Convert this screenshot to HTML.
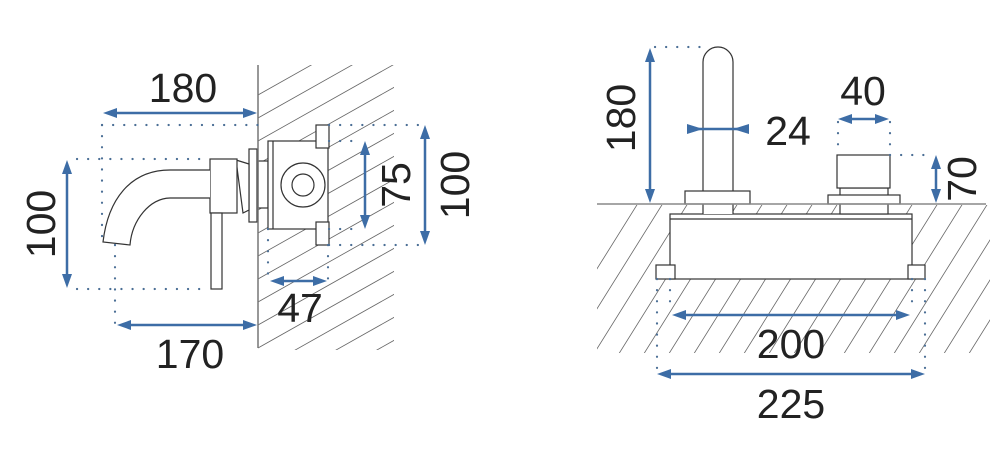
<!DOCTYPE html>
<html><head><meta charset="utf-8"><style>
html,body{margin:0;padding:0;background:#fff;}
svg{display:block}
text{font-family:"Liberation Sans",sans-serif;font-size:41px;fill:#222;}
</style></head><body>
<svg width="1004" height="459" viewBox="0 0 1004 459" xmlns="http://www.w3.org/2000/svg">
<defs>
<clipPath id="c1"><rect x="258" y="65" width="136" height="285"/></clipPath>
<clipPath id="c2"><rect x="597" y="205" width="393" height="148"/></clipPath>
</defs>
<g clip-path="url(#c1)" stroke="#666" stroke-width="0.8">
<line x1="258" y1="95" x2="400" y2="15"/><line x1="258" y1="118" x2="400" y2="38"/><line x1="258" y1="141" x2="400" y2="61"/><line x1="258" y1="164" x2="400" y2="84"/><line x1="258" y1="187" x2="400" y2="107"/><line x1="258" y1="210" x2="400" y2="130"/><line x1="258" y1="233" x2="400" y2="153"/><line x1="258" y1="256" x2="400" y2="176"/><line x1="258" y1="279" x2="400" y2="199"/><line x1="258" y1="302" x2="400" y2="222"/><line x1="258" y1="325" x2="400" y2="245"/><line x1="258" y1="348" x2="400" y2="268"/><line x1="258" y1="371" x2="400" y2="291"/><line x1="258" y1="394" x2="400" y2="314"/><line x1="258" y1="417" x2="400" y2="337"/><line x1="258" y1="440" x2="400" y2="360"/>
</g>
<g clip-path="url(#c2)" stroke="#666" stroke-width="0.8">
<line x1="540" y1="360" x2="640" y2="200"/><line x1="565" y1="360" x2="665" y2="200"/><line x1="590" y1="360" x2="690" y2="200"/><line x1="615" y1="360" x2="715" y2="200"/><line x1="640" y1="360" x2="740" y2="200"/><line x1="665" y1="360" x2="765" y2="200"/><line x1="690" y1="360" x2="790" y2="200"/><line x1="715" y1="360" x2="815" y2="200"/><line x1="740" y1="360" x2="840" y2="200"/><line x1="765" y1="360" x2="865" y2="200"/><line x1="790" y1="360" x2="890" y2="200"/><line x1="815" y1="360" x2="915" y2="200"/><line x1="840" y1="360" x2="940" y2="200"/><line x1="865" y1="360" x2="965" y2="200"/><line x1="890" y1="360" x2="990" y2="200"/><line x1="915" y1="360" x2="1015" y2="200"/><line x1="940" y1="360" x2="1040" y2="200"/><line x1="965" y1="360" x2="1065" y2="200"/>
</g>
<g fill="#fff" stroke="#333" stroke-width="1.2">
<rect x="258" y="161" width="10" height="47"/>
<rect x="268" y="141" width="60" height="88"/>
<line x1="273" y1="141" x2="273" y2="229"/>
<circle cx="303" cy="185" r="22"/>
<circle cx="303" cy="185" r="11"/>
<rect x="316" y="125" width="13" height="23"/>
<rect x="316" y="222" width="13" height="23"/>
<rect x="249" y="149" width="8" height="73"/>
<path d="M236,160 L249,164 L249,210 L243,213 Z"/>
<rect x="210" y="159" width="27" height="54"/>
<rect x="211" y="213" width="11" height="76"/>
<path d="M210,170 L170,170 C130,170 108,200 103,242 L130,245 C132,220 150,198 170,198 L210,198"/>
<rect x="670" y="214" width="242" height="65"/>
<line x1="670" y1="219" x2="912" y2="219"/>
<rect x="656" y="265" width="19" height="14"/>
<rect x="908" y="265" width="17" height="14"/>
<path d="M703,214 L703,62 A15,15 0 0 1 733,62 L733,214"/>
<rect x="685" y="191" width="65" height="13"/>
<rect x="840" y="188" width="48" height="26"/>
<rect x="828" y="195" width="72" height="9"/>
<rect x="837" y="155" width="53" height="33"/>
</g>
<line x1="258" y1="65" x2="258" y2="348" stroke="#777" stroke-width="1.5"/>
<line x1="597" y1="204" x2="986" y2="204" stroke="#888" stroke-width="1.5"/>
<g stroke="#4a6e95" stroke-width="2.2" stroke-dasharray="0.1 11" stroke-linecap="round" fill="none">
<line x1="102" y1="125" x2="102" y2="242"/>
<line x1="102" y1="125" x2="258" y2="125"/>
<line x1="77" y1="159" x2="210" y2="159"/>
<line x1="77" y1="289" x2="210" y2="289"/>
<line x1="115" y1="245" x2="115" y2="325"/>
<line x1="329" y1="125" x2="420" y2="125"/>
<line x1="329" y1="245" x2="420" y2="245"/>
<line x1="329" y1="141" x2="362" y2="141"/>
<line x1="329" y1="229" x2="362" y2="229"/>
<line x1="268" y1="229" x2="268" y2="280"/>
<line x1="328" y1="245" x2="328" y2="280"/>
<line x1="655" y1="47" x2="705" y2="47"/>
<line x1="838" y1="122" x2="838" y2="155"/>
<line x1="890" y1="122" x2="890" y2="155"/>
<line x1="890" y1="155" x2="932" y2="155"/>
<line x1="670" y1="279" x2="670" y2="312"/>
<line x1="912" y1="279" x2="912" y2="312"/>
<line x1="657" y1="279" x2="657" y2="374"/>
<line x1="925" y1="279" x2="925" y2="374"/>
</g>
<g stroke="#3d6da6" stroke-width="2.5">
<line x1="110" y1="113" x2="250" y2="113"/>
<line x1="67" y1="167" x2="67" y2="281"/>
<line x1="124" y1="325" x2="250" y2="325"/>
<line x1="277" y1="281" x2="320" y2="281"/>
<line x1="365" y1="148" x2="365" y2="222"/>
<line x1="425" y1="132" x2="425" y2="238"/>
<line x1="650" y1="55" x2="650" y2="196"/>
<line x1="845" y1="119" x2="882" y2="119"/>
<line x1="936" y1="162" x2="936" y2="196"/>
<line x1="679" y1="315" x2="903" y2="315"/>
<line x1="664" y1="374" x2="918" y2="374"/>
<line x1="687" y1="129" x2="749" y2="129"/>
</g>
<g fill="#3d6da6">
<path d="M103,113l14,-5v10z M257,113l-14,-5v10z"/>
<path d="M67,160l-5,14h10z M67,288l-5,-14h10z"/>
<path d="M117,325l14,-5v10z M257,325l-14,-5v10z"/>
<path d="M270,281l14,-5v10z M327,281l-14,-5v10z"/>
<path d="M365,141l-5,14h10z M365,229l-5,-14h10z"/>
<path d="M425,125l-5,14h10z M425,245l-5,-14h10z"/>
<path d="M650,48l-5,14h10z M650,203l-5,-14h10z"/>
<path d="M838,119l14,-5v10z M889,119l-14,-5v10z"/>
<path d="M936,155l-5,14h10z M936,203l-5,-14h10z"/>
<path d="M672,315l14,-5v10z M910,315l-14,-5v10z"/>
<path d="M657,374l14,-5v10z M925,374l-14,-5v10z"/>
<path d="M687,124 L703,129 L687,134Z M749,124 L733,129 L749,134Z"/>
</g>
<text x="183" y="102" text-anchor="middle">180</text>
<text x="190" y="368" text-anchor="middle">170</text>
<text x="300" y="322" text-anchor="middle">47</text>
<text transform="translate(55,224) rotate(-90)" text-anchor="middle">100</text>
<text transform="translate(410,185) rotate(-90)" text-anchor="middle">75</text>
<text transform="translate(469,185) rotate(-90)" text-anchor="middle">100</text>
<text transform="translate(635,118) rotate(-90)" text-anchor="middle">180</text>
<text x="788" y="145" text-anchor="middle">24</text>
<text x="863" y="105" text-anchor="middle">40</text>
<text transform="translate(976,179) rotate(-90)" text-anchor="middle">70</text>
<text x="791" y="358" text-anchor="middle">200</text>
<text x="791" y="418" text-anchor="middle">225</text>
</svg>
</body></html>
